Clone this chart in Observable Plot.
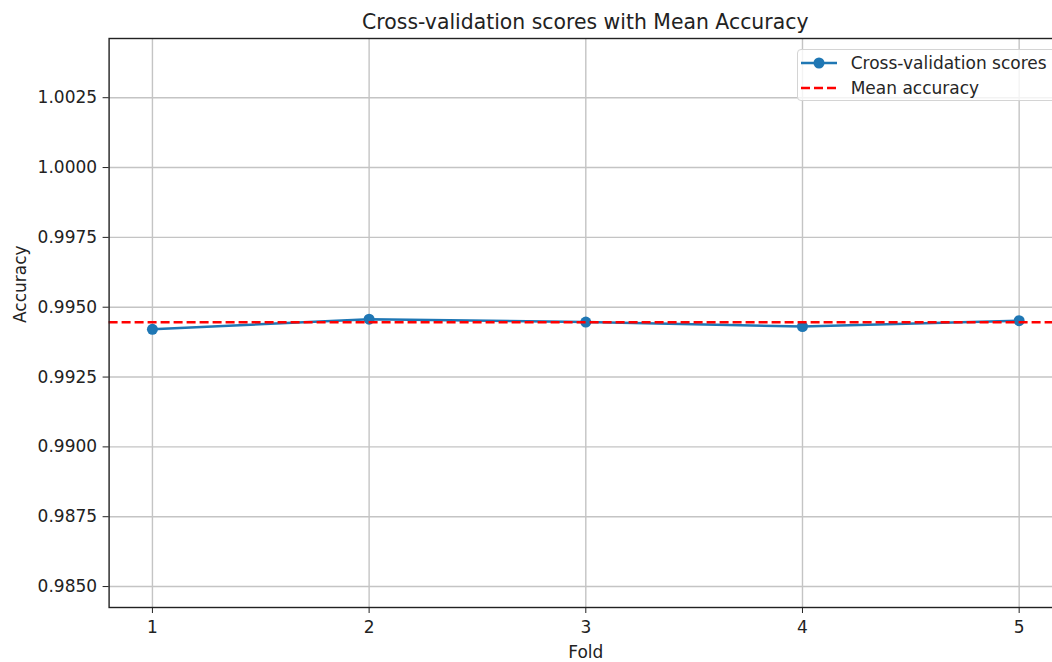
<!DOCTYPE html>
<html>
<head>
<meta charset="utf-8">
<script src="https://cdn.jsdelivr.net/npm/d3@7"></script>
<script src="https://cdn.jsdelivr.net/npm/@observablehq/plot@0.6"></script>
<style>
  html, body { margin: 0; padding: 0; background: white; overflow: hidden; }
  #wrap { position: relative; width: 1052px; height: 662px; overflow: hidden; font-family: "DejaVu Sans", sans-serif; }
  #header { position: relative; height: 30px; }
  #title { position: absolute; left: 108.6px; width: 953.4px; top: 12px; text-align: center; font-size: 20.4px; line-height: 1; color: #222; white-space: nowrap; }
  #legend { position: absolute; left: 796.7px; top: 49px; width: 290px; height: 52px; border: 1px solid #d4d4d4; border-radius: 4px; background: rgba(255,255,255,0.8); box-sizing: border-box; }
  .lrow { position: absolute; left: 0; height: 20px; width: 100%; }
  .lrow svg { position: absolute; left: 3px; top: 4px; }
  .lrow span { position: absolute; left: 53px; top: 0; font-size: 17px; line-height: 20px; color: #262626; white-space: nowrap; }
</style>
</head>
<body>
<div id="wrap">
  <div id="header"><div id="title">Cross-validation scores with Mean Accuracy</div></div>
  <div id="chart"></div>
  <div id="legend"></div>
</div>
<script>
// ---- data ----
const folds = [1, 2, 3, 4, 5];
const scores = [0.99421, 0.99457, 0.99447, 0.99431, 0.99452];
const meanAccuracy = 0.99446;
const yTicks = [0.985, 0.9875, 0.99, 0.9925, 0.995, 0.9975, 1.0, 1.0025];
const seriesLabels = ["Cross-validation scores", "Mean accuracy"];
const titleText = "Cross-validation scores with Mean Accuracy";
const xLabel = "Fold";
const yLabel = "Accuracy";

const data = folds.map((f, i) => ({fold: f, score: scores[i]}));
const blue = "#1f77b4";
const grid = {stroke: "#c4c4c4", strokeOpacity: 1, strokeWidth: 1.4};

const chart = Plot.plot({
  width: 1052,
  height: 632,
  marginLeft: 108.6,
  marginRight: -10,
  marginTop: 8,
  marginBottom: 55,
  style: {fontFamily: "DejaVu Sans, sans-serif", fontSize: "17px", color: "#222", background: "white"},
  x: {domain: [0.8, 5.2]},
  y: {domain: [0.98425, 1.00462]},
  marks: [
    Plot.gridX(folds, grid),
    Plot.gridY(yTicks, grid),
    Plot.line(data, {x: "fold", y: "score", stroke: blue, strokeWidth: 2.5}),
    Plot.dot(data, {x: "fold", y: "score", r: 5.5, fill: blue, stroke: "none"}),
    Plot.ruleY([meanAccuracy], {stroke: "red", strokeWidth: 2.5, strokeDasharray: "9,4"}),
    Plot.frame({stroke: "#222", strokeWidth: 1.4}),
    Plot.axisX(folds, {tickSize: 6, tickPadding: 7, label: null, tickFormat: d => String(d)}),
    Plot.axisY(yTicks, {tickSize: 6, tickPadding: 6, label: null, tickFormat: d3.format(".4f")}),
    Plot.text([xLabel], {frameAnchor: "bottom", dy: 50.5, text: d => d, fill: "#222"}),
    Plot.text([yLabel], {frameAnchor: "left", dx: -89, rotate: -90, text: d => d, fill: "#222"})
  ]
});
document.getElementById("chart").appendChild(chart);
document.getElementById("title").textContent = titleText;

// legend
const legend = document.getElementById("legend");
const swatches = [
  `<svg width="36" height="12"><line x1="0" y1="6" x2="36" y2="6" stroke="${blue}" stroke-width="2.5"/><circle cx="18" cy="6" r="5.5" fill="${blue}"/></svg>`,
  `<svg width="36" height="12"><line x1="0" y1="6" x2="36" y2="6" stroke="red" stroke-width="2.5" stroke-dasharray="9,4"/></svg>`
];
const rowTops = [3, 28];
seriesLabels.forEach((lab, i) => {
  const row = document.createElement("div");
  row.className = "lrow";
  row.style.top = rowTops[i] + "px";
  row.innerHTML = swatches[i];
  const s = document.createElement("span");
  s.textContent = lab;
  row.appendChild(s);
  legend.appendChild(row);
});
</script>
</body>
</html>
